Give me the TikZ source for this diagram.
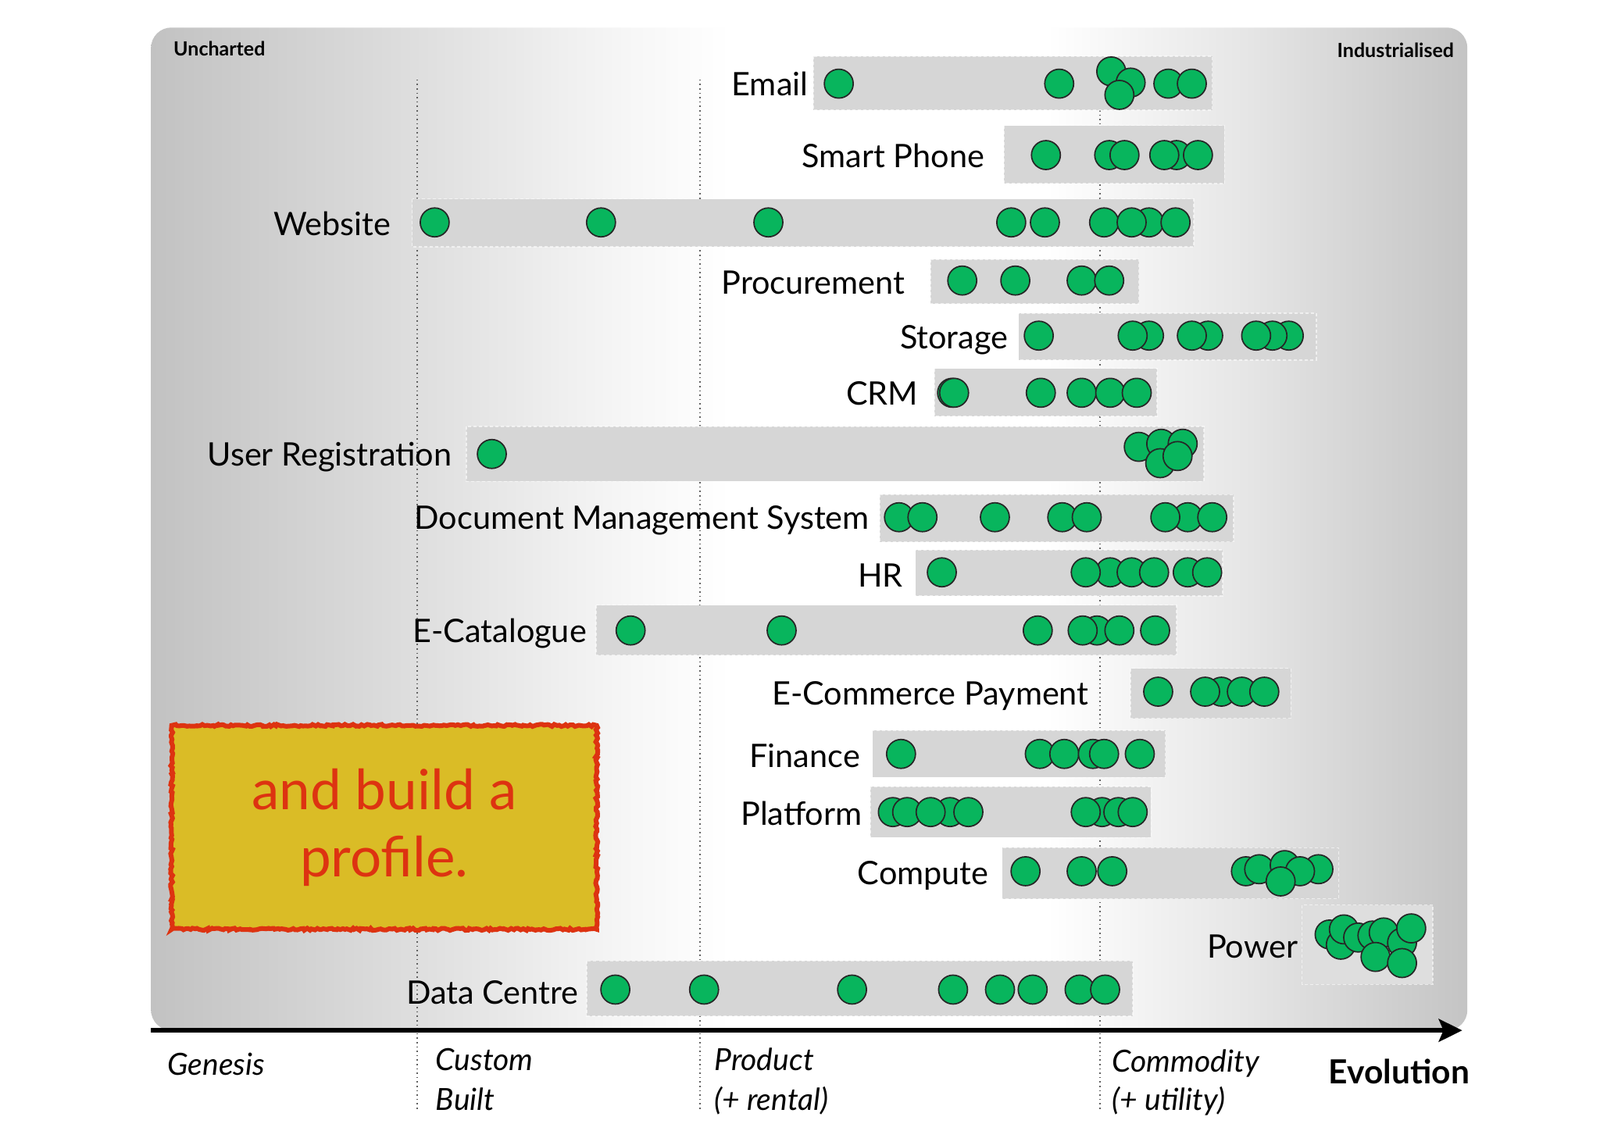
\documentclass[tikz,border=0pt]{standalone}
\usepackage{fontspec}
\setmainfont{Lato}
\usetikzlibrary{arrows.meta,decorations.pathmorphing}
\definecolor{bgL}{HTML}{C2C2C2}
\definecolor{bgB}{HTML}{DEDEDE}
\definecolor{bgC}{HTML}{F6F6F6}
\definecolor{bgD}{HTML}{E6E6E6}
\definecolor{bgR}{HTML}{C4C4C4}
\definecolor{barc}{HTML}{D6D6D6}
\definecolor{dotg}{HTML}{08B55D}
\definecolor{msgfill}{HTML}{DABC26}
\definecolor{msgred}{HTML}{DD3311}
\pgfdeclarehorizontalshading{bgshade}{100bp}{color(0bp)=(bgL); color(25bp)=(bgL); color(35bp)=(bgB); color(43bp)=(bgC); color(47bp)=(white); color(59bp)=(white); color(66.5bp)=(bgD); color(75bp)=(bgR); color(100bp)=(bgR)}
\tikzset{
  guide/.style={draw=black!62, line width=1.6pt, dash pattern=on 1.6pt off 4pt},
  bar/.style={fill=barc, draw=white, draw opacity=0.6, line width=1.5pt, dash pattern=on 4pt off 3pt},
  gdot/.style={circle, draw=black!85, line width=1.7pt, fill=dotg, minimum size=37pt, inner sep=0pt},
  lab/.style={anchor=base east, inner sep=0pt, font=\fontsize{41.4}{50}\selectfont},
  phase/.style={anchor=base west, inner sep=0pt, font=\fontsize{39}{46}\selectfont\itshape},
  corner/.style={inner sep=0pt, font=\fontsize{25}{30}\selectfont\bfseries},
  msgbox/.style={draw=msgred, line width=6pt, fill=msgfill, decorate, decoration={random steps, segment length=3pt, amplitude=1.4pt},
     minimum width=544pt, minimum height=261pt, inner sep=0pt, align=center, text=msgred, font=\fontsize{71}{86}\selectfont}
}
\begin{document}
\begin{tikzpicture}[x=1.306pt,y=-1.306pt]
\useasboundingbox (0,0) rectangle (1568,1108);
% background
\path[shading=bgshade, rounded corners=26pt] (148,27) rectangle (1438,1010);
\node[corner, anchor=base west] (unch) at (170,55) {Uncharted};
\node[corner, anchor=base east] (indu) at (1425,56) {Industrialised};
% guides
\foreach \gx [count=\i] in {409,686,1078} {
  \coordinate (gt\i) at (\gx,78);
  \coordinate (gb\i) at (\gx,1088);
  \draw[guide] (gt\i) -- (gb\i);
}
% bars
\path[bar] (797,55) rectangle (1188,108);
\path[bar] (984,123) rectangle (1200,180);
\path[bar] (404,195) rectangle (1170,242);
\path[bar] (912,254) rectangle (1116,298);
\path[bar] (998,307) rectangle (1290,353);
\path[bar] (916,361) rectangle (1134,408);
\path[bar] (457,418) rectangle (1180,472);
\path[bar] (862,485) rectangle (1209,531);
\path[bar] (897,539) rectangle (1198,584);
\path[bar] (584,593) rectangle (1153,642);
\path[bar] (1108,655) rectangle (1265,704);
\path[bar] (855,716) rectangle (1142,762);
\path[bar] (853,771) rectangle (1128,821);
\path[bar] (982,831) rectangle (1312,881);
\path[bar, fill=black!13] (1276,887) rectangle (1404,965);
\path[bar] (575,942) rectangle (1110,996);
% labels
\node[lab] (lEmail) at (792,94) {Email};
\node[lab] (lSmart) at (965,164) {Smart Phone};
\node[lab] (lWeb) at (383,231) {Website};
\node[lab] (lProc) at (887,288) {Procurement};
\node[lab] (lStor) at (988,342) {Storage};
\node[lab] (lCRM) at (900,397) {CRM};
\node[lab] (lUser) at (443,457) {User Registration};
\node[lab] (lDMS) at (852,519) {Document Management System};
\node[lab] (lHR) at (885,575) {HR};
\node[lab] (lECat) at (575,630) {E-Catalogue};
\node[lab] (lECom) at (1067,691) {E-Commerce Payment};
\node[lab] (lFin) at (843,752) {Finance};
\node[lab] (lPlat) at (845,809) {Platform};
\node[lab] (lComp) at (969,867) {Compute};
\node[lab] (lPow) at (1272,939) {Power};
\node[lab] (lDC) at (567,984) {Data Centre};
% dots
\foreach \x/\y [count=\i] in {822/82,1038/82,1089/70,1108/81,1097/93,1145/82,1168/82}
  \node[gdot] (dEm\i) at (\x,\y) {};
\foreach \x [count=\i] in {1025,1087,1102,1153,1141,1174}
  \node[gdot] (dSp\i) at (\x,152) {};
\foreach \x [count=\i] in {426,589,753,991,1024,1082,1126,1109,1152}
  \node[gdot] (dWe\i) at (\x,218) {};
\foreach \x [count=\i] in {943,995,1060,1087}
  \node[gdot] (dPr\i) at (\x,275) {};
\foreach \x [count=\i] in {1018,1126,1110,1184,1168,1263,1247,1231}
  \node[gdot] (dSt\i) at (\x,329) {};
\foreach \x [count=\i] in {933,935,1020,1060,1088,1114}
  \node[gdot] (dCr\i) at (\x,385) {};
\foreach \x/\y [count=\i] in {482/445,1116/438,1138/435,1159/435,1137/454,1154/447}
  \node[gdot] (dUr\i) at (\x,\y) {};
\foreach \x [count=\i] in {881,904,975,1041,1065,1164,1142,1188}
  \node[gdot] (dDm\i) at (\x,507) {};
\foreach \x [count=\i] in {923,1088,1064,1109,1131,1164,1183}
  \node[gdot] (dHr\i) at (\x,561) {};
\foreach \x [count=\i] in {618,766,1017,1075,1061,1097,1132}
  \node[gdot] (dEc\i) at (\x,618) {};
\foreach \x [count=\i] in {1135,1197,1181,1217,1239}
  \node[gdot] (dEp\i) at (\x,678) {};
\foreach \x [count=\i] in {883,1019,1043,1071,1082,1117}
  \node[gdot] (dFi\i) at (\x,739) {};
\foreach \x [count=\i] in {875,889,931,912,949,1080,1064,1096,1110}
  \node[gdot] (dPl\i) at (\x,796) {};
\foreach \x/\y [count=\i] in {1005/854,1060/854,1090/854,1221/854,1234/852,1259/848,1292/852,1274/854,1255/864}
  \node[gdot] (dCo\i) at (\x,\y) {};
\foreach \x/\y [count=\i] in {1303/916,1314/926,1317/911,1331/919,1345/917,1356/914,1374/924,1383/910,1348/938,1374/944}
  \node[gdot] (dPo\i) at (\x,\y) {};
\foreach \x [count=\i] in {603,690,835,934,980,1012,1058,1083}
  \node[gdot] (dDc\i) at (\x,970) {};
% message box
\node[msgbox] (msg) at (376.5,811) {and build a\\profile.};
% axis
\coordinate (axs) at (148,1010);
\coordinate (axe) at (1433,1010);
\draw[line width=6pt, -{Stealth[length=30pt,width=29pt,inset=6pt]}] (axs) -- (axe);
% phase labels
\node[phase] (pGen) at (164,1054) {Genesis};
\node[phase] (pCus) at (427,1049) {Custom};
\node[phase] (pBui) at (427,1088) {Built};
\node[phase] (pPro) at (700,1049) {Product};
\node[phase] (pRen) at (700,1088) {(+ rental)};
\node[phase] (pCom) at (1090,1051) {Commodity};
\node[phase] (pUti) at (1090,1088) {(+ utility)};
\node[anchor=base west, inner sep=0pt, font=\fontsize{42.5}{48}\selectfont\bfseries] (pEvo) at (1302,1062) {Evolution};
\end{tikzpicture}
\end{document}
